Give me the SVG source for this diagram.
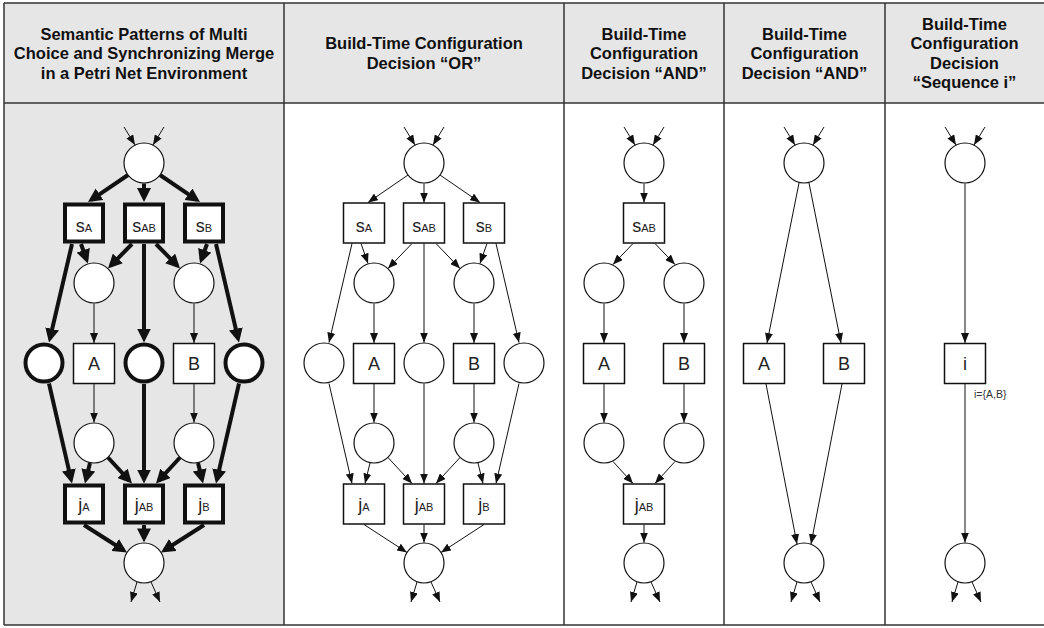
<svg xmlns="http://www.w3.org/2000/svg" width="1044" height="628" viewBox="0 0 1044 628">
<defs>
<style>
.hdr{font-family:"Liberation Sans",Arial,sans-serif;font-weight:bold;font-size:16.5px;fill:#111;text-anchor:middle}
.lbl{font-family:"Liberation Sans",Arial,sans-serif;font-size:18px;fill:#222;text-anchor:middle}
.sub{font-size:11px}
.note{font-family:"Liberation Sans",Arial,sans-serif;font-size:10.5px;fill:#333}
.pl{fill:#fff;stroke:#111;stroke-width:1.2}
.plT{fill:#fff;stroke:#111;stroke-width:4}
.tr{fill:#fff;stroke:#111;stroke-width:1.5}
.trT{fill:#fff;stroke:#111;stroke-width:4}
.e{stroke:#111;stroke-width:1;fill:none;marker-end:url(#ah)}
.eT{stroke:#111;stroke-width:4;fill:none;marker-end:url(#ahT)}
.grid{stroke:#333;stroke-width:1.5;fill:none}
</style>
<marker id="ah" markerUnits="userSpaceOnUse" markerWidth="10" markerHeight="8" refX="10" refY="4" orient="auto"><path d="M0,0 L10,4 L0,8 z" fill="#111"/></marker>
<marker id="ahT" markerUnits="userSpaceOnUse" markerWidth="14" markerHeight="14" refX="10" refY="7" orient="auto"><path d="M0,0 L14,7 L0,14 z" fill="#111"/></marker>
</defs>
<g id="table">
<rect x="4" y="3" width="1045" height="100" fill="#e6e6e6"/>
<rect x="4" y="103" width="280" height="522" fill="#e6e6e6"/>
<line class="grid" x1="4" y1="3" x2="1044" y2="3"/>
<line class="grid" x1="4" y1="103" x2="1044" y2="103"/>
<line class="grid" x1="4" y1="625" x2="1044" y2="625"/>
<line class="grid" x1="4" y1="3" x2="4" y2="625"/>
<line class="grid" x1="284" y1="3" x2="284" y2="625"/>
<line class="grid" x1="564" y1="3" x2="564" y2="625"/>
<line class="grid" x1="724" y1="3" x2="724" y2="625"/>
<line class="grid" x1="885" y1="3" x2="885" y2="625"/>
</g>
<g id="headers">
<text class="hdr" x="144" y="39.5">Semantic Patterns of Multi</text>
<text class="hdr" x="144" y="59">Choice and Synchronizing Merge</text>
<text class="hdr" x="144" y="78.5">in a Petri Net Environment</text>
<text class="hdr" x="424" y="49">Build-Time Configuration</text>
<text class="hdr" x="424" y="68.5">Decision “OR”</text>
<text class="hdr" x="644" y="39.5">Build-Time</text>
<text class="hdr" x="644" y="59">Configuration</text>
<text class="hdr" x="644" y="78.5">Decision “AND”</text>
<text class="hdr" x="804.5" y="39.5">Build-Time</text>
<text class="hdr" x="804.5" y="59">Configuration</text>
<text class="hdr" x="804.5" y="78.5">Decision “AND”</text>
<text class="hdr" x="964.5" y="29.5">Build-Time</text>
<text class="hdr" x="964.5" y="49">Configuration</text>
<text class="hdr" x="964.5" y="68.5">Decision</text>
<text class="hdr" x="964.5" y="88">“Sequence i”</text>
</g>
<g id="connectors">
<!-- panel 1 -->
<line class="e" x1="124" y1="127" x2="135" y2="145"/>
<line class="e" x1="164" y1="127" x2="153" y2="145"/>
<line class="eT" x1="128" y1="175" x2="91.3" y2="199.8"/>
<line class="eT" x1="144" y1="183.5" x2="144" y2="198"/>
<line class="eT" x1="160" y1="175" x2="196.7" y2="199.8"/>
<line class="eT" x1="81" y1="244" x2="86.6" y2="259.7"/>
<line class="eT" x1="72" y1="244" x2="49.9" y2="338.7"/>
<line class="eT" x1="132" y1="244" x2="110.8" y2="265.6"/>
<line class="eT" x1="144" y1="244" x2="144" y2="338.5"/>
<line class="eT" x1="156" y1="244" x2="177.2" y2="265.6"/>
<line class="eT" x1="207" y1="244" x2="201.4" y2="259.7"/>
<line class="eT" x1="216" y1="244" x2="238.1" y2="338.7"/>
<line class="e" x1="94" y1="303.5" x2="94" y2="343"/>
<line class="e" x1="194" y1="303.5" x2="194" y2="343"/>
<line class="e" x1="94" y1="384" x2="94" y2="422.5"/>
<line class="e" x1="194" y1="384" x2="194" y2="422.5"/>
<line class="eT" x1="49" y1="383.5" x2="71.1" y2="479.6"/>
<line class="eT" x1="90" y1="463" x2="85.9" y2="479.6"/>
<line class="eT" x1="108" y1="457.5" x2="129.3" y2="480.6"/>
<line class="eT" x1="144" y1="384" x2="144" y2="479.5"/>
<line class="eT" x1="180" y1="457.5" x2="158.7" y2="480.6"/>
<line class="eT" x1="198" y1="463" x2="202.1" y2="479.6"/>
<line class="eT" x1="239" y1="383.5" x2="216.9" y2="479.6"/>
<line class="eT" x1="84" y1="525" x2="123.6" y2="550.3"/>
<line class="eT" x1="144" y1="525" x2="144" y2="538.4"/>
<line class="eT" x1="204" y1="525" x2="164.4" y2="550.3"/>
<line class="e" x1="137" y1="582" x2="131" y2="602"/>
<line class="e" x1="151" y1="582" x2="160" y2="602"/>
<!-- panel 2 -->
<line class="e" x1="404" y1="127" x2="415" y2="145"/>
<line class="e" x1="444" y1="127" x2="433" y2="145"/>
<line class="e" x1="408" y1="175" x2="368" y2="202.5"/>
<line class="e" x1="424" y1="183.5" x2="424" y2="202.5"/>
<line class="e" x1="440" y1="175" x2="480" y2="202.5"/>
<line class="e" x1="361" y1="243.5" x2="368" y2="263.5"/>
<line class="e" x1="352" y1="243.5" x2="329" y2="342.6"/>
<line class="e" x1="412" y1="243.5" x2="388" y2="268.5"/>
<line class="e" x1="424" y1="243.5" x2="424" y2="342.5"/>
<line class="e" x1="436" y1="243.5" x2="460" y2="268.5"/>
<line class="e" x1="487" y1="243.5" x2="480" y2="263.5"/>
<line class="e" x1="496" y1="243.5" x2="519" y2="342.6"/>
<line class="e" x1="374" y1="303.5" x2="374" y2="343"/>
<line class="e" x1="474" y1="303.5" x2="474" y2="343"/>
<line class="e" x1="374" y1="384" x2="374" y2="422.5"/>
<line class="e" x1="474" y1="384" x2="474" y2="422.5"/>
<line class="e" x1="329" y1="383.5" x2="352" y2="483.5"/>
<line class="e" x1="370" y1="463" x2="365" y2="483.5"/>
<line class="e" x1="388" y1="457.5" x2="412" y2="483.5"/>
<line class="e" x1="424" y1="383.5" x2="424" y2="483.5"/>
<line class="e" x1="460" y1="457.5" x2="436" y2="483.5"/>
<line class="e" x1="478" y1="463" x2="483" y2="483.5"/>
<line class="e" x1="519" y1="383.5" x2="496" y2="483.5"/>
<line class="e" x1="364" y1="524.5" x2="407" y2="552.5"/>
<line class="e" x1="424" y1="524.5" x2="424" y2="542.5"/>
<line class="e" x1="484" y1="524.5" x2="441" y2="552.5"/>
<line class="e" x1="417" y1="582" x2="411" y2="602"/>
<line class="e" x1="431" y1="582" x2="440" y2="602"/>
<!-- panel 3 -->
<line class="e" x1="624" y1="127" x2="635" y2="145"/>
<line class="e" x1="664" y1="127" x2="653" y2="145"/>
<line class="e" x1="644" y1="183.5" x2="644" y2="202.5"/>
<line class="e" x1="633" y1="243.5" x2="613" y2="264.5"/>
<line class="e" x1="655" y1="243.5" x2="675" y2="264.5"/>
<line class="e" x1="604" y1="303.5" x2="604" y2="343"/>
<line class="e" x1="684" y1="303.5" x2="684" y2="343"/>
<line class="e" x1="604" y1="384" x2="604" y2="422.5"/>
<line class="e" x1="684" y1="384" x2="684" y2="422.5"/>
<line class="e" x1="613" y1="461.5" x2="633" y2="483.5"/>
<line class="e" x1="675" y1="461.5" x2="655" y2="483.5"/>
<line class="e" x1="644" y1="524.5" x2="644" y2="542.5"/>
<line class="e" x1="637" y1="582" x2="631" y2="602"/>
<line class="e" x1="651" y1="582" x2="660" y2="602"/>
<!-- panel 4 -->
<line class="e" x1="784" y1="127" x2="795" y2="145"/>
<line class="e" x1="824" y1="127" x2="813" y2="145"/>
<line class="e" x1="799" y1="183" x2="767" y2="343"/>
<line class="e" x1="809" y1="183" x2="841" y2="343"/>
<line class="e" x1="766" y1="384" x2="797" y2="544"/>
<line class="e" x1="842" y1="384" x2="811" y2="544"/>
<line class="e" x1="797" y1="582" x2="791" y2="602"/>
<line class="e" x1="811" y1="582" x2="820" y2="602"/>
<!-- panel 5 -->
<line class="e" x1="945" y1="127" x2="956" y2="145"/>
<line class="e" x1="985" y1="127" x2="974" y2="145"/>
<line class="e" x1="965" y1="183.5" x2="965" y2="343"/>
<line class="e" x1="965" y1="384" x2="965" y2="542.5"/>
<line class="e" x1="958" y1="582" x2="952" y2="602"/>
<line class="e" x1="972" y1="582" x2="981" y2="602"/>
</g>
<!-- panel 1 nodes -->
<g id="p1-start"><circle class="pl" cx="144" cy="163" r="20"/></g>
<g id="p1-sA"><rect class="trT" x="65" y="204.5" width="38" height="37"/><text class="lbl" x="84" y="231.5">s<tspan class="sub">A</tspan></text></g>
<g id="p1-sAB"><rect class="trT" x="125" y="204.5" width="38" height="37"/><text class="lbl" x="144" y="231.5">s<tspan class="sub">AB</tspan></text></g>
<g id="p1-sB"><rect class="trT" x="185" y="204.5" width="38" height="37"/><text class="lbl" x="204" y="231.5">s<tspan class="sub">B</tspan></text></g>
<g id="p1-m1"><circle class="pl" cx="94" cy="283" r="20"/></g>
<g id="p1-m2"><circle class="pl" cx="194" cy="283" r="20"/></g>
<g id="p1-p1"><circle class="plT" cx="44" cy="363" r="18.5"/></g>
<g id="p1-p2"><circle class="plT" cx="144" cy="363" r="18.5"/></g>
<g id="p1-p3"><circle class="plT" cx="244" cy="363" r="18.5"/></g>
<g id="p1-A"><rect class="tr" x="73.5" y="343.5" width="41" height="40"/><text class="lbl" x="94" y="370">A</text></g>
<g id="p1-B"><rect class="tr" x="173.5" y="343.5" width="41" height="40"/><text class="lbl" x="194" y="370">B</text></g>
<g id="p1-l1"><circle class="pl" cx="94" cy="443" r="20"/></g>
<g id="p1-l2"><circle class="pl" cx="194" cy="443" r="20"/></g>
<g id="p1-jA"><rect class="trT" x="65" y="485.5" width="38" height="37"/><text class="lbl" x="84" y="510.5">j<tspan class="sub">A</tspan></text></g>
<g id="p1-jAB"><rect class="trT" x="125" y="485.5" width="38" height="37"/><text class="lbl" x="144" y="510.5">j<tspan class="sub">AB</tspan></text></g>
<g id="p1-jB"><rect class="trT" x="185" y="485.5" width="38" height="37"/><text class="lbl" x="204" y="510.5">j<tspan class="sub">B</tspan></text></g>
<g id="p1-end"><circle class="pl" cx="144" cy="563" r="20"/></g>
<!-- panel 2 nodes -->
<g id="p2-start"><circle class="pl" cx="424" cy="163" r="20"/></g>
<g id="p2-sA"><rect class="tr" x="343.5" y="203" width="41" height="40"/><text class="lbl" x="364" y="231.5">s<tspan class="sub">A</tspan></text></g>
<g id="p2-sAB"><rect class="tr" x="403.5" y="203" width="41" height="40"/><text class="lbl" x="424" y="231.5">s<tspan class="sub">AB</tspan></text></g>
<g id="p2-sB"><rect class="tr" x="463.5" y="203" width="41" height="40"/><text class="lbl" x="484" y="231.5">s<tspan class="sub">B</tspan></text></g>
<g id="p2-m1"><circle class="pl" cx="374" cy="283" r="20"/></g>
<g id="p2-m2"><circle class="pl" cx="474" cy="283" r="20"/></g>
<g id="p2-p1"><circle class="pl" cx="324" cy="363" r="20"/></g>
<g id="p2-p2"><circle class="pl" cx="424" cy="363" r="20"/></g>
<g id="p2-p3"><circle class="pl" cx="524" cy="363" r="20"/></g>
<g id="p2-A"><rect class="tr" x="353.5" y="343.5" width="41" height="40"/><text class="lbl" x="374" y="370">A</text></g>
<g id="p2-B"><rect class="tr" x="453.5" y="343.5" width="41" height="40"/><text class="lbl" x="474" y="370">B</text></g>
<g id="p2-l1"><circle class="pl" cx="374" cy="443" r="20"/></g>
<g id="p2-l2"><circle class="pl" cx="474" cy="443" r="20"/></g>
<g id="p2-jA"><rect class="tr" x="343.5" y="484" width="41" height="40"/><text class="lbl" x="364" y="510.5">j<tspan class="sub">A</tspan></text></g>
<g id="p2-jAB"><rect class="tr" x="403.5" y="484" width="41" height="40"/><text class="lbl" x="424" y="510.5">j<tspan class="sub">AB</tspan></text></g>
<g id="p2-jB"><rect class="tr" x="463.5" y="484" width="41" height="40"/><text class="lbl" x="484" y="510.5">j<tspan class="sub">B</tspan></text></g>
<g id="p2-end"><circle class="pl" cx="424" cy="563" r="20"/></g>
<!-- panel 3 nodes -->
<g id="p3-start"><circle class="pl" cx="644" cy="163" r="20"/></g>
<g id="p3-sAB"><rect class="tr" x="623.5" y="203" width="41" height="40"/><text class="lbl" x="644" y="231.5">s<tspan class="sub">AB</tspan></text></g>
<g id="p3-m1"><circle class="pl" cx="604" cy="283" r="20"/></g>
<g id="p3-m2"><circle class="pl" cx="684" cy="283" r="20"/></g>
<g id="p3-A"><rect class="tr" x="583.5" y="343.5" width="41" height="40"/><text class="lbl" x="604" y="370">A</text></g>
<g id="p3-B"><rect class="tr" x="663.5" y="343.5" width="41" height="40"/><text class="lbl" x="684" y="370">B</text></g>
<g id="p3-l1"><circle class="pl" cx="604" cy="443" r="20"/></g>
<g id="p3-l2"><circle class="pl" cx="684" cy="443" r="20"/></g>
<g id="p3-jAB"><rect class="tr" x="623.5" y="484" width="41" height="40"/><text class="lbl" x="644" y="510.5">j<tspan class="sub">AB</tspan></text></g>
<g id="p3-end"><circle class="pl" cx="644" cy="563" r="20"/></g>
<!-- panel 4 nodes -->
<g id="p4-start"><circle class="pl" cx="804" cy="163" r="20"/></g>
<g id="p4-A"><rect class="tr" x="743.5" y="343.5" width="41" height="40"/><text class="lbl" x="764" y="370">A</text></g>
<g id="p4-B"><rect class="tr" x="823.5" y="343.5" width="41" height="40"/><text class="lbl" x="844" y="370">B</text></g>
<g id="p4-end"><circle class="pl" cx="804" cy="563" r="20"/></g>
<!-- panel 5 nodes -->
<g id="p5-start"><circle class="pl" cx="965" cy="163" r="20"/></g>
<g id="p5-i"><rect class="tr" x="944.5" y="343.5" width="41" height="40"/><text class="lbl" x="965" y="370">i</text><text class="note" x="974" y="398">i={A,B}</text></g>
<g id="p5-end"><circle class="pl" cx="965" cy="563" r="20"/></g>
</svg>
